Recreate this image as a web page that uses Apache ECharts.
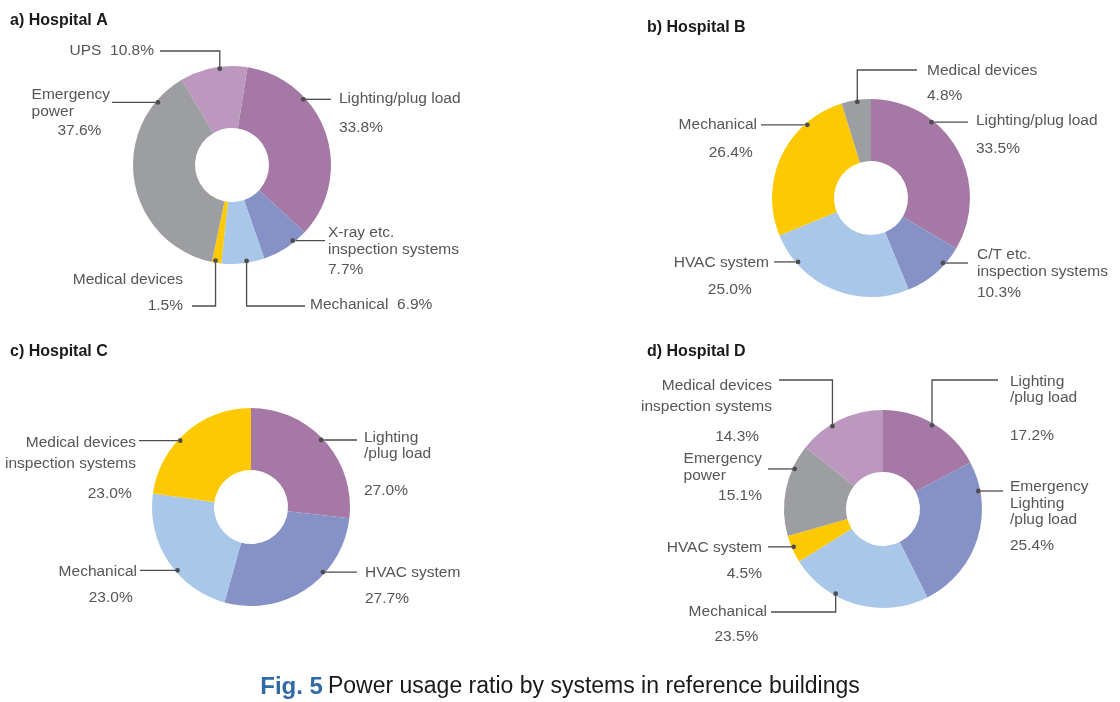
<!DOCTYPE html>
<html>
<head>
<meta charset="utf-8">
<script src="https://cdn.jsdelivr.net/npm/echarts@6/dist/echarts.min.js"></script>
<style>
  html, body { margin: 0; padding: 0; background: #fff; }
  #chart { width: 1120px; height: 702px; }
</style>
</head>
<body>
<div id="chart"></div>
<script>
// ---- data ----
const panelTitles = ['a) Hospital A', 'b) Hospital B', 'c) Hospital C', 'd) Hospital D'];
const captionFig = 'Fig. 5';
const captionText = 'Power usage ratio by systems in reference buildings';

const hospitalANames = ['Lighting/plug load', 'X-ray etc.\ninspection systems', 'Mechanical', 'Medical devices', 'Emergency\npower', 'UPS'];
const hospitalAValues = [33.8, 7.7, 6.9, 1.5, 37.6, 10.8];

const hospitalBNames = ['Lighting/plug load', 'C/T etc.\ninspection systems', 'HVAC system', 'Mechanical', 'Medical devices'];
const hospitalBValues = [33.5, 10.3, 25.0, 26.4, 4.8];

const hospitalCNames = ['Lighting\n/plug load', 'HVAC system', 'Mechanical', 'Medical devices\ninspection systems'];
const hospitalCValues = [27.0, 27.7, 23.0, 23.0];

const hospitalDNames = ['Lighting\n/plug load', 'Emergency\nLighting\n/plug load', 'Mechanical', 'HVAC system', 'Emergency\npower', 'Medical devices\ninspection systems'];
const hospitalDValues = [17.2, 25.4, 23.5, 4.5, 15.1, 14.3];

// ---- styles ----
const PURPLE = '#a678a6';
const BLUE = '#8692c6';
const SKY = '#a9c8e9';
const YELLOW = '#fdc903';
const GRAY = '#9c9ea1';
const LILAC = '#bc97be';

const LABEL_FONT = '"Liberation Sans", Arial, sans-serif';
const LABEL_SIZE = 15.5;
const TITLE_FONT = '"Liberation Sans", Arial, sans-serif';
const TEXT_COLOR = '#565656';
const LINE_COLOR = '#4d4d4d';

// callout placement: t = where along the slice the leader starts,
// route h = straight across, v = up/down first then across
const labelsA = [
  { t: .31, route: 'h', ex: 331, side: 'R', gap: 8, dy: -1, vgap: 29 },
  { t: .30, route: 'h', ex: 325, side: 'R', gap: 3, dy: -8, vgap: 20 },
  { t: .41, route: 'v', ex: 305, ey: 306, side: 'R', gap: 5, dy: -1, inline: true },
  { t: .64, route: 'v', ex: 192, ey: 306, side: 'L', gap: 9, dy: -26, vgap: 26 },
  { t: .86, route: 'h', ex: 112, side: 'L', gap: 2, dy: -8, vgap: 19, nameAlign: 'left', vpad: 6 },
  { t: .59, route: 'v', ex: 160, ey: 51, side: 'L', gap: 6, dy: 0, inline: true }
];
const labelsB = [
  { t: .32, route: 'h', ex: 968, side: 'R', gap: 8, dy: -1, vgap: 28 },
  { t: .31, route: 'h', ex: 968, side: 'R', gap: 9, dy: -8, vgap: 21 },
  { t: .79, route: 'h', ex: 774, side: 'L', gap: 5, dy: 1, vgap: 27, vpad: 16 },
  { t: .75, route: 'h', ex: 761, side: 'L', gap: 4, dy: 0, vgap: 28, vpad: 3 },
  { t: .53, route: 'v', ex: 917, ey: 70, side: 'R', gap: 10, dy: 1, vgap: 25 }
];
const labelsC = [
  { t: .48, route: 'h', ex: 357, side: 'R', gap: 7, dy: -2, vgap: 37, lh: 16 },
  { t: .36, route: 'h', ex: 357, side: 'R', gap: 8, dy: 1, vgap: 26 },
  { t: .41, route: 'h', ex: 140, side: 'L', gap: 3, dy: 1, vgap: 26, vpad: 3 },
  { t: .43, route: 'h', ex: 139, side: 'L', gap: 3, dy: 2, vgap: 30, lh: 21, vpad: 2 }
];
const labelsD = [
  { t: .49, route: 'v', ex: 998, ey: 380, side: 'R', gap: 12, dy: 2, vgap: 38, lh: 16 },
  { t: .19, route: 'h', ex: 1003, side: 'R', gap: 7, dy: -4, vgap: 26, lh: 16.5 },
  { t: .66, route: 'v', ex: 771, ey: 612, side: 'L', gap: 4, dy: 0, vgap: 25, vpad: 6 },
  { t: .56, route: 'h', ex: 768, side: 'L', gap: 6, dy: 1, vgap: 26, vpad: 1 },
  { t: .74, route: 'h', ex: 768, side: 'L', gap: 6, dy: -10, vgap: 20, nameAlign: 'left', vpad: 1 },
  { t: .39, route: 'v', ex: 779, ey: 380, side: 'L', gap: 7, dy: 6, vgap: 30, lh: 21, vpad: 13 }
];

const panels = [
  { names: hospitalANames, values: hospitalAValues, center: [232, 165], startAngle: 81,
    colors: [PURPLE, BLUE, SKY, YELLOW, GRAY, LILAC], titlePos: [10, 11], labels: labelsA },
  { names: hospitalBNames, values: hospitalBValues, center: [871, 198], startAngle: 90,
    colors: [PURPLE, BLUE, SKY, YELLOW, GRAY], titlePos: [647, 18], labels: labelsB },
  { names: hospitalCNames, values: hospitalCValues, center: [251, 507], startAngle: 90,
    colors: [PURPLE, BLUE, SKY, YELLOW], titlePos: [10, 342], labels: labelsC },
  { names: hospitalDNames, values: hospitalDValues, center: [883, 509], startAngle: 90,
    colors: [PURPLE, BLUE, SKY, YELLOW, GRAY, LILAC], titlePos: [647, 342], labels: labelsD }
];

const chart = echarts.init(document.getElementById('chart'), null, { renderer: 'canvas' });

// point on a slice taken from the pie layout echarts computed
function anchorPoint(seriesIndex, dataIndex, t) {
  const lay = chart.getModel().getSeriesByIndex(seriesIndex).getData().getItemLayout(dataIndex);
  const a = lay.startAngle + t * (lay.endAngle - lay.startAngle);
  const rr = lay.r - 2;
  return [lay.cx + rr * Math.cos(a), lay.cy + rr * Math.sin(a)];
}

function formatterFor(specs) {
  return (p) => {
    const i = p.dataIndex;
    const s = specs[i];
    const v = p.value.toFixed(1) + '%';
    if (s.inline) return `{n${i}|${p.name}  ${v}}`;
    const pad = '\u00a0'.repeat(Math.round((s.vpad || 0) / 4));
    return p.name.split('\n').map((l) => `{n${i}|${l}}`).join('\n') + `\n{v${i}|${v}${pad}}`;
  };
}

function richFor(specs) {
  const rich = {};
  specs.forEach((s, i) => {
    const lh = s.lh || 17;
    const base = { fontFamily: LABEL_FONT, fontSize: LABEL_SIZE, color: TEXT_COLOR };
    rich['n' + i] = Object.assign({ lineHeight: lh }, base, s.nameAlign ? { align: s.nameAlign } : {});
    rich['v' + i] = Object.assign({ lineHeight: s.inline ? lh : 2 * s.vgap - lh }, base);
  });
  return rich;
}

function layoutFor(seriesIndex, specs) {
  return (p) => {
    const s = specs[p.dataIndex];
    const a = anchorPoint(seriesIndex, p.dataIndex, s.t);
    const lineY = s.route === 'v' ? s.ey : a[1];
    const pts = s.route === 'v'
      ? [a, [a[0], s.ey], [s.ex, s.ey]]
      : [a, [(a[0] + s.ex) / 2, a[1]], [s.ex, a[1]]];
    const lh = s.inline ? 17 : (s.lh || 17);
    const right = s.side === 'R';
    return {
      x: right ? s.ex + s.gap : s.ex - s.gap,
      y: lineY + s.dy - lh / 2,
      align: right ? 'left' : 'right',
      verticalAlign: 'top',
      labelLinePoints: pts
    };
  };
}

const option = {
  animation: false,
  title: panels.map((pn, i) => ({
    text: panelTitles[i],
    left: pn.titlePos[0],
    top: pn.titlePos[1],
    padding: 0,
    textStyle: { fontFamily: TITLE_FONT, fontSize: 16, fontWeight: 'bold', color: '#1a1a1a', lineHeight: 20 }
  })).concat([{
    text: `{f|${captionFig}} {t|${captionText}}`,
    left: 'center',
    top: 673,
    padding: 0,
    textStyle: {
      fontWeight: 'normal',
      rich: {
        f: { fontFamily: TITLE_FONT, fontSize: 24, fontWeight: 'bold', color: '#2f6aa6', lineHeight: 28 },
        t: { fontFamily: TITLE_FONT, fontSize: 23, fontWeight: 'normal', color: '#1a1a1a', lineHeight: 28 }
      }
    }
  }]),
  series: panels.map((pn, si) => ({
    type: 'pie',
    center: pn.center,
    radius: [37, 99],
    startAngle: pn.startAngle,
    clockwise: true,
    avoidLabelOverlap: false,
    silent: true,
    emphasis: { disabled: true },
    data: pn.names.map((n, i) => ({ name: n, value: pn.values[i], itemStyle: { color: pn.colors[i] } })),
    label: {
      show: true,
      position: 'outside',
      formatter: formatterFor(pn.labels),
      fontFamily: LABEL_FONT,
      fontSize: LABEL_SIZE,
      color: TEXT_COLOR,
      rich: richFor(pn.labels)
    },
    labelLine: { show: true, length: 10, length2: 10, lineStyle: { color: LINE_COLOR, width: 1.3 } },
    labelLayout: layoutFor(si, pn.labels)
  }))
};

chart.setOption(option);

// small dots where the leader lines meet the slices
const dots = [];
panels.forEach((pn, si) => {
  pn.labels.forEach((s, di) => {
    const a = anchorPoint(si, di, s.t);
    dots.push({ type: 'circle', z: 100, silent: true, shape: { cx: a[0], cy: a[1], r: 2.4 }, style: { fill: LINE_COLOR } });
  });
});
chart.setOption({ graphic: dots });
</script>
</body>
</html>
